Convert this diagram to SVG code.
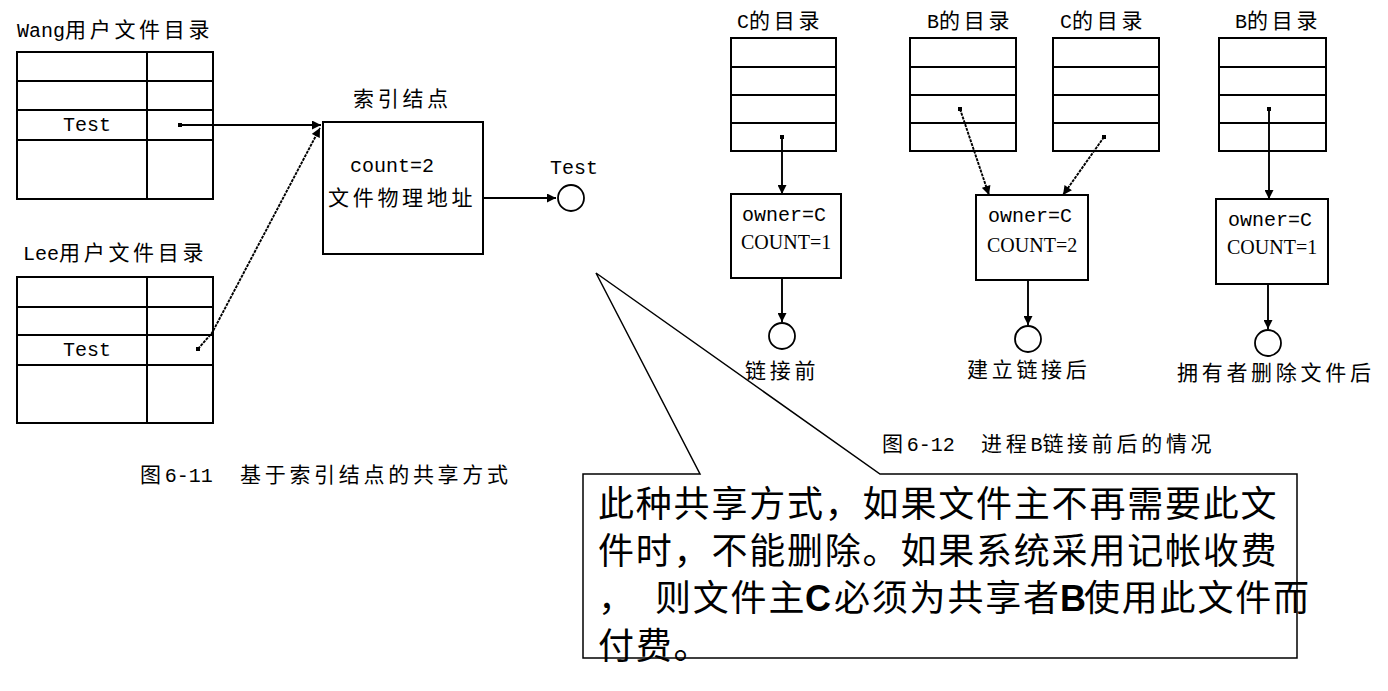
<svg xmlns="http://www.w3.org/2000/svg" width="1388" height="691" viewBox="0 0 1388 691">
<style>
.tb{fill:none;stroke:#000;stroke-width:2}
.ln{stroke:#000;stroke-width:2}
.cn{fill:none;stroke:#000;stroke-width:1.9}
.dot{fill:#000}
.lbl{font-family:"Liberation Mono","Noto Sans CJK SC",monospace;font-size:20px;fill:#000}
.cj{font-family:"Noto Sans CJK SC",sans-serif;font-size:21px;letter-spacing:3.7px}
.sr{font-family:"Liberation Serif","Noto Sans CJK SC",serif;font-size:20px;fill:#000}
.big{font-family:"Noto Sans CJK SC",sans-serif;font-size:36px;letter-spacing:1.8px;fill:#000}
.bl{font-family:"Liberation Sans",sans-serif;font-weight:bold;letter-spacing:0}
.circ{fill:#fff;stroke:#000;stroke-width:1.8}
</style>
<defs>
<marker id="ah" viewBox="0 0 10 10" refX="10" refY="5" markerWidth="10" markerHeight="9" markerUnits="userSpaceOnUse" orient="auto"><path d="M0,0 L10,5 L0,10 z" fill="#000"/></marker>
</defs>
<rect width="1388" height="691" fill="#fff"/>

<g id="callout">
<path d="M583,474 L700,474 L596,273 L880,474 L1297,474 L1297,658 L583,658 Z" fill="none" stroke="#000" stroke-width="1.5"/>
</g>

<g id="wang-dir">
<text class="lbl" x="17" y="37">Wang<tspan class="cj">用户文件目录</tspan></text>
<rect class="tb" x="17" y="52" width="196" height="147"/>
<line class="ln" x1="17" y1="81" x2="213" y2="81"/>
<line class="ln" x1="17" y1="110" x2="213" y2="110"/>
<line class="ln" x1="17" y1="140" x2="213" y2="140"/>
<line class="ln" x1="147" y1="52" x2="147" y2="199"/>
<text class="lbl" x="63" y="131">Test</text>
<rect class="dot" x="178" y="123" width="4" height="4"/>
</g>

<g id="lee-dir">
<text class="lbl" x="23" y="260">Lee<tspan class="cj">用户文件目录</tspan></text>
<rect class="tb" x="17" y="277" width="196" height="146"/>
<line class="ln" x1="17" y1="307" x2="213" y2="307"/>
<line class="ln" x1="17" y1="335" x2="213" y2="335"/>
<line class="ln" x1="17" y1="365" x2="213" y2="365"/>
<line class="ln" x1="147" y1="277" x2="147" y2="423"/>
<text class="lbl" x="63" y="356">Test</text>
<rect class="dot" x="196" y="347" width="4" height="4"/>
</g>

<g id="inode">
<text class="lbl" x="353" y="106"><tspan class="cj">索引结点</tspan></text>
<rect class="tb" x="323" y="122" width="160" height="132"/>
<text class="lbl" x="350" y="172">count=2</text>
<text class="lbl" x="328" y="205"><tspan class="cj">文件物理地址</tspan></text>
</g>

<g id="test-file">
<text class="lbl" x="550" y="174">Test</text>
<circle class="circ" cx="571" cy="198" r="13"/>
</g>

<g id="c-dir-1">
<text class="lbl" x="737" y="28">C<tspan class="cj">的目录</tspan></text>
<rect class="tb" x="731" y="38" width="105" height="113"/>
<line class="ln" x1="731" y1="67" x2="836" y2="67"/>
<line class="ln" x1="731" y1="95" x2="836" y2="95"/>
<line class="ln" x1="731" y1="123" x2="836" y2="123"/>
<rect class="dot" x="780" y="135" width="4" height="4"/>
</g>

<g id="b-dir-1">
<text class="lbl" x="927" y="28">B<tspan class="cj">的目录</tspan></text>
<rect class="tb" x="910" y="38" width="106" height="113"/>
<line class="ln" x1="910" y1="67" x2="1016" y2="67"/>
<line class="ln" x1="910" y1="95" x2="1016" y2="95"/>
<line class="ln" x1="910" y1="123" x2="1016" y2="123"/>
<rect class="dot" x="958" y="107" width="4" height="4"/>
</g>

<g id="c-dir-2">
<text class="lbl" x="1060" y="28">C<tspan class="cj">的目录</tspan></text>
<rect class="tb" x="1053" y="38" width="106" height="113"/>
<line class="ln" x1="1053" y1="67" x2="1159" y2="67"/>
<line class="ln" x1="1053" y1="95" x2="1159" y2="95"/>
<line class="ln" x1="1053" y1="123" x2="1159" y2="123"/>
<rect class="dot" x="1102" y="135" width="4" height="4"/>
</g>

<g id="b-dir-2">
<text class="lbl" x="1235" y="28">B<tspan class="cj">的目录</tspan></text>
<rect class="tb" x="1219" y="38" width="107" height="113"/>
<line class="ln" x1="1219" y1="67" x2="1326" y2="67"/>
<line class="ln" x1="1219" y1="95" x2="1326" y2="95"/>
<line class="ln" x1="1219" y1="123" x2="1326" y2="123"/>
<rect class="dot" x="1267" y="107" width="4" height="4"/>
</g>

<g id="box-1">
<rect class="tb" x="731" y="194" width="110" height="84"/>
<text class="lbl" x="742" y="221">owner=C</text>
<text class="sr" x="741" y="249">COUNT=1</text>
<circle class="circ" cx="782" cy="336" r="13"/>
<text class="lbl" x="745" y="378"><tspan class="cj">链接前</tspan></text>
</g>

<g id="box-2">
<rect class="tb" x="976" y="195" width="112" height="85"/>
<text class="lbl" x="988" y="222">owner=C</text>
<text class="sr" x="987" y="252">COUNT=2</text>
<circle class="circ" cx="1028" cy="339" r="13"/>
<text class="lbl" x="967" y="377"><tspan class="cj">建立链接后</tspan></text>
</g>

<g id="box-3">
<rect class="tb" x="1216" y="199" width="112" height="85"/>
<text class="lbl" x="1228" y="226">owner=C</text>
<text class="sr" x="1227" y="254">COUNT=1</text>
<circle class="circ" cx="1268" cy="343" r="13"/>
<text class="lbl" x="1177" y="380"><tspan class="cj">拥有者删除文件后</tspan></text>
</g>

<g id="connectors">
<line class="cn" x1="180" y1="125" x2="321" y2="125" marker-end="url(#ah)"/>
<polyline class="cn" points="198,349 212,333 320,128" stroke-dasharray="3 1" marker-end="url(#ah)"/>
<line class="cn" x1="483" y1="198" x2="556" y2="198" marker-end="url(#ah)"/>
<line class="cn" x1="782" y1="137" x2="782" y2="194" marker-end="url(#ah)"/>
<line class="cn" x1="782" y1="278" x2="782" y2="322" marker-end="url(#ah)"/>
<line class="cn" x1="960" y1="109" x2="989" y2="195" stroke-dasharray="3 1" marker-end="url(#ah)"/>
<line class="cn" x1="1104" y1="137" x2="1063" y2="195" stroke-dasharray="3 1" marker-end="url(#ah)"/>
<line class="cn" x1="1028" y1="280" x2="1028" y2="325" marker-end="url(#ah)"/>
<line class="cn" x1="1269" y1="109" x2="1269" y2="199" marker-end="url(#ah)"/>
<line class="cn" x1="1268" y1="284" x2="1268" y2="329" marker-end="url(#ah)"/>
</g>

<g id="captions">
<text class="lbl" x="140" y="482"><tspan class="cj">图</tspan>6-11<tspan x="240" class="cj">基于索引结点的共享方式</tspan></text>
<text class="lbl" x="882" y="451"><tspan class="cj">图</tspan>6-12<tspan x="981" class="cj">进程</tspan>B<tspan class="cj">链接前后的情况</tspan></text>
</g>

<g id="callout-text">
<text class="big" x="598" y="517">此种共享方式，如果文件主不再需要此文</text>
<text class="big" x="598" y="564">件时，不能删除。如果系统采用记帐收费</text>
<text class="big" y="611"><tspan x="598">，</tspan><tspan x="655">则文件主</tspan><tspan x="805" class="bl">C</tspan><tspan x="834">必须为共享者</tspan><tspan x="1060" class="bl">B</tspan><tspan x="1084">使用此文件而</tspan></text>
<text class="big" x="598" y="659">付费。</text>
</g>
</svg>
